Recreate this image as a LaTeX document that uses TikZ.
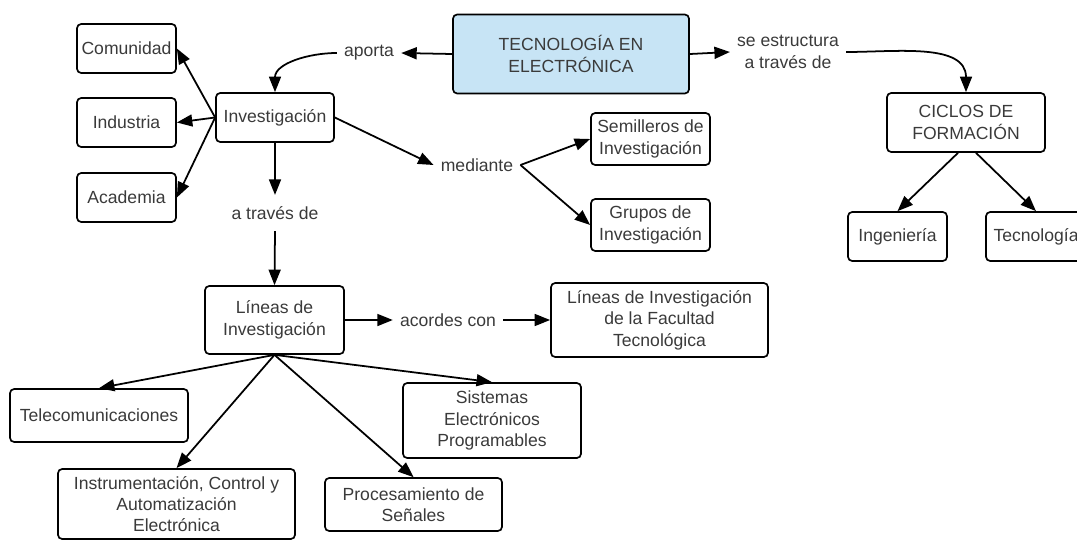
\documentclass[tikz,border=0pt]{standalone}
\usepackage{fontspec}
\setmainfont{Liberation Sans}
\usetikzlibrary{arrows.meta}
\definecolor{txtgray}{RGB}{58,58,58}
\definecolor{techblue}{RGB}{199,228,245}
\tikzset{
	concept/.style={draw, rounded corners=3pt, line width=1.2pt, align=center, text=txtgray, inner sep=2pt},
	link/.style={align=center, text=txtgray, inner xsep=5pt, inner ysep=8pt},
	conn/.style={line width=1.25pt, -{Triangle[length=11pt,width=8.5pt]}}
}
\begin{document}
\begin{tikzpicture}[x=0.025cm, y=-0.025cm, font=\fontsize{12.5}{15.2}\selectfont]
			\useasboundingbox (0,0) rectangle (1077,540);
			\node[concept, fill=techblue, minimum width=5.9cm, minimum height=1.975cm] (tec) at (571,54) {TECNOLOGÍA EN\\ELECTRÓNICA};
			\node[link] (aporta) at (369,53) {aporta};
			\node[link] (estruct) at (788,52) {se estructura\\a través de};
			\node[concept, minimum width=2.95cm, minimum height=1.225cm] (inv) at (275,117.5) {Investigación};
			\node[concept, minimum width=2.475cm, minimum height=1.225cm] (com) at (126.5,48.5) {Comunidad};
			\node[concept, minimum width=2.475cm, minimum height=1.225cm] (ind) at (126.5,122.5) {Industria};
			\node[concept, minimum width=2.475cm, minimum height=1.225cm] (aca) at (126.5,197.5) {Academia};
			\node[link] (mediante) at (477,165) {mediante};
			\node[concept, minimum width=2.975cm, minimum height=1.3cm] (semi) at (650.5,139) {Semilleros de\\Investigación};
			\node[concept, minimum width=2.975cm, minimum height=1.3cm] (grupos) at (650.5,225) {Grupos de\\Investigación};
			\node[concept, minimum width=3.95cm, minimum height=1.475cm] (ciclos) at (966,122.5) {CICLOS DE\\FORMACIÓN};
			\node[concept, minimum width=2.475cm, minimum height=1.225cm] (inge) at (897.5,236.5) {Ingeniería};
			\node[concept, minimum width=2.5cm, minimum height=1.225cm] (tecno) at (1036,236.5) {Tecnología};
			\node[link] (atraves) at (275,213) {a través de};
			\node[concept, minimum width=3.475cm, minimum height=1.7cm] (lineas) at (274.5,320) {Líneas de\\Investigación};
			\node[link] (acordes) at (448,320) {acordes con};
			\node[concept, minimum width=5.425cm, minimum height=1.85cm] (lineasft) at (659.5,320) {Líneas de Investigación\\de la Facultad\\Tecnológica};
			\node[concept, minimum width=4.45cm, minimum height=1.325cm] (tele) at (99,415.5) {Telecomunicaciones};
			\node[concept, minimum width=5.925cm, minimum height=1.75cm] (instr) at (176.5,504) {Instrumentación, Control y\\Automatización\\Electrónica};
			\node[concept, minimum width=4.425cm, minimum height=1.325cm] (proc) at (413.5,504.5) {Procesamiento de\\Señales};
			\node[concept, minimum width=4.45cm, minimum height=1.875cm] (sist) at (492,420.5) {Sistemas\\Electrónicos\\Programables};

			\draw[conn] (tec.west) -- (aporta.east);
			\draw[conn] (aporta.west) to[out=180, in=90] (inv.north);
			\draw[conn] (inv.west) -- (com.east);
			\draw[conn] (inv.west) -- (ind.east);
			\draw[conn] (inv.west) -- (aca.east);
			\draw[conn] (inv.east) -- (mediante.west);
			\draw[conn] (mediante.east) -- (semi.west);
			\draw[conn] (mediante.east) -- (grupos.west);
			\draw[conn] (inv.south) -- (atraves.north);
			\draw[conn] (atraves.south) -- (lineas.north);
			\draw[conn] (lineas.east) -- (acordes.west);
			\draw[conn] (acordes.east) -- (lineasft.west);
			\draw[conn] (lineas.south) -- (tele.north);
			\draw[conn] (lineas.south) -- (instr.north);
			\draw[conn] (lineas.south) -- (proc.north);
			\draw[conn] (lineas.south) -- (sist.north);
			\draw[conn] (tec.east) -- (estruct.west);
			\draw[conn] (estruct.east) to[out=0, in=90] (ciclos.north);
			\draw[conn] ([xshift=-0.2cm]ciclos.south) -- (inge.north);
			\draw[conn] ([xshift=0.25cm]ciclos.south) -- (tecno.north);
		\end{tikzpicture}
\end{document}
